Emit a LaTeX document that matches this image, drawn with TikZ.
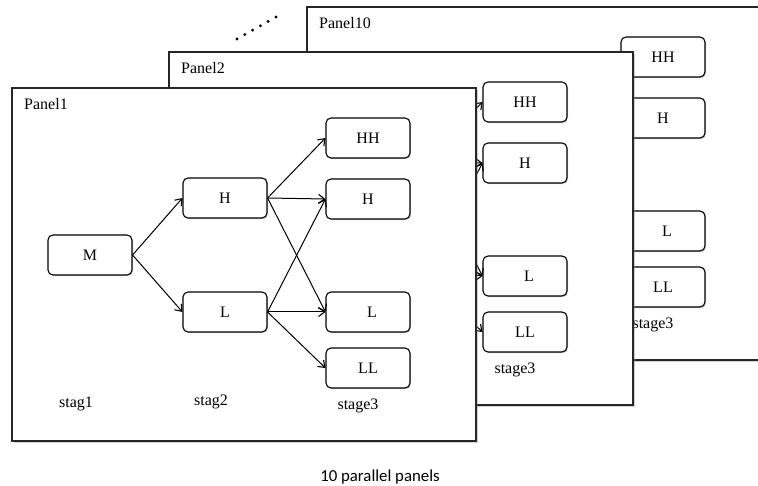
\documentclass[tikz,border=0pt]{standalone}
\usepackage{fontspec}
\setmainfont{Liberation Serif}
\newfontfamily\capfont{Carlito}
\usetikzlibrary{arrows.meta,shadows}
\tikzset{
  panelbox/.style={draw=black!85, line width=1.3pt, fill=white,
    drop shadow={shadow xshift=1.5pt, shadow yshift=-2pt, opacity=0.35}},
  statebox/.style={draw=black, line width=1.1pt, rounded corners=5pt, fill=white,
    minimum width=84pt, minimum height=40pt, inner sep=0pt, font=\fontsize{16}{18}\selectfont,
    drop shadow={shadow xshift=1pt, shadow yshift=-1.2pt, opacity=0.35}},
  lbl/.style={font=\fontsize{16}{18}\selectfont, inner sep=0pt},
  edge/.style={-{Straight Barb[length=6pt,width=9pt,line width=1.1pt]}, line width=1pt},
}
% back panel: only the parts that stay visible behind the front panels
\newcommand{\backpanel}[4]{%
  \begin{scope}[shift={(#1,#2)}]
    \draw[panelbox] (12,88) rectangle (476,441);
    \node[lbl, anchor=west] (title#3) at (24,104) {#4};
    \coordinate (H#3) at (267,198);
    \coordinate (L#3) at (267,312);
    \node[statebox] (HH#3) at (368,138) {HH};
    \node[statebox] (Hb#3) at (368,199) {H};
    \node[statebox] (Lb#3) at (368,312) {\ \ L};
    \node[statebox] (LL#3) at (368,368) {LL};
    \draw[edge] (H#3) -- (HH#3.west);
    \draw[edge] (H#3) -- (Hb#3.west);
    \draw[edge] (H#3) -- (Lb#3.west);
    \draw[edge] (L#3) -- (Hb#3.west);
    \draw[edge] (L#3) -- (Lb#3.west);
    \draw[edge] (L#3) -- (LL#3.west);
    \node[lbl] (s3#3) at (358,406) {stage3};
  \end{scope}}
\begin{document}
\begin{tikzpicture}[x=1pt,y=-1pt]
  \useasboundingbox (0,0) rectangle (758,486);
  \clip (0,0) rectangle (758,486);
  \fill[white] (0,0) rectangle (758,486);
  \backpanel{295}{-81}{c}{Panel10}
  \backpanel{157}{-36}{b}{Panel2}
  % front panel
  \draw[panelbox] (12,88) rectangle (476,441);
  \node[lbl, anchor=west] (titlea) at (24,104) {Panel1};
  \node[statebox] (Ma) at (90,255) {M};
  \node[statebox] (Ha) at (225,198) {H};
  \node[statebox] (La) at (225,312) {L};
  \node[statebox] (HHa) at (368,138) {HH};
  \node[statebox] (Hba) at (368,199) {H};
  \node[statebox] (Lba) at (368,312) {\ \ L};
  \node[statebox] (LLa) at (368,368) {LL};
  \draw[edge] (Ma.east) -- (Ha.west);
  \draw[edge] (Ma.east) -- (La.west);
  \draw[edge] (Ha.east) -- (HHa.west);
  \draw[edge] (Ha.east) -- (Hba.west);
  \draw[edge] (Ha.east) -- (Lba.west);
  \draw[edge] (La.east) -- (Hba.west);
  \draw[edge] (La.east) -- (Lba.west);
  \draw[edge] (La.east) -- (LLa.west);
  \node[lbl] (s1a) at (76,404) {stag1};
  \node[lbl] (s2a) at (211,402) {stag2};
  \node[lbl] (s3a) at (358,406) {stage3};
  \foreach \i in {0,...,5} {
    \fill (237+\i*7.8,39-\i*4.4) circle (1.6);
  }
  \node[font=\capfont\fontsize{16.8}{19}\selectfont, inner sep=0pt] (caption) at (380,477) {10 parallel panels};
\end{tikzpicture}
\end{document}
